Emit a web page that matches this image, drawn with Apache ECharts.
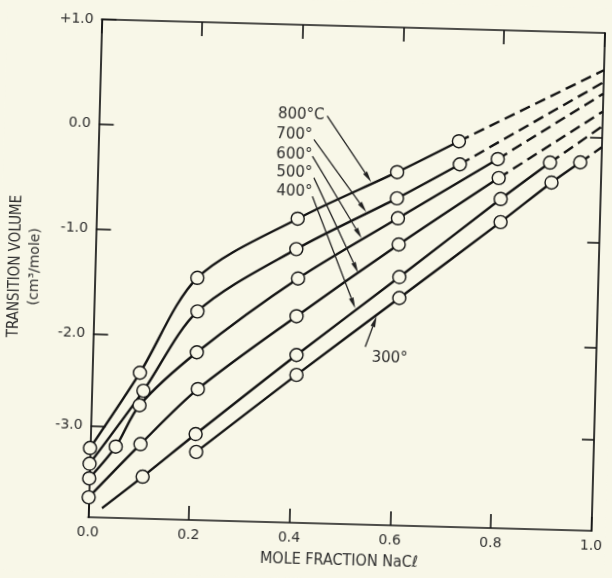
<!DOCTYPE html>
<html>
<head>
<meta charset="UTF-8">
<title>Transition volume vs mole fraction NaCl</title>
<script src="https://cdn.jsdelivr.net/npm/echarts@6.0.0/dist/echarts.min.js"></script>
<style>
  html, body { margin: 0; padding: 0; background: #f8f7e8; overflow: hidden; }
  /* the scanned figure sits slightly tilted on the page */
  #chart { width: 612px; height: 578px; transform: rotate(1.55deg); transform-origin: 50% 50%; }
</style>
</head>
<body>
<div id="chart"></div>
<script>
// curve temperatures, top to bottom
const temps = ['800', '700', '600', '500', '400', '300'];

// measured points: mole fraction NaCl -> transition volume (cm3/mole)
const x800 = [0.0, 0.095, 0.204, 0.400, 0.595, 0.716];
const y800 = [-3.09, -2.36, -1.44, -0.85, -0.38, -0.07];
const x700 = [0.0, 0.103, 0.206, 0.399, 0.596, 0.719];
const y700 = [-3.24, -2.53, -1.76, -1.14, -0.63, -0.29];
const x600 = [0.0, 0.051, 0.096, 0.207, 0.404, 0.599, 0.794];
const y600 = [-3.38, -3.07, -2.67, -2.15, -1.42, -0.82, -0.23];
const x500 = [0.0, 0.100, 0.211, 0.403, 0.602, 0.797];
const y500 = [-3.56, -3.04, -2.50, -1.78, -1.07, -0.41];
const x400 = [0.027, 0.106, 0.209, 0.405, 0.605, 0.802, 0.898];
const y400 = [-3.66, -3.35, -2.93, -2.15, -1.38, -0.61, -0.25];
const x300 = [0.211, 0.406, 0.606, 0.803, 0.902, 0.958];
const y300 = [-3.10, -2.34, -1.58, -0.83, -0.44, -0.24];
// the 400 curve begins without a circle
const unmarked400 = [0];
// dashed extrapolation, value at x = 1.0 for each curve
const yAtOne = [0.645, 0.53, 0.42, 0.25, 0.11, -0.09];

// axis ticks (the -3.0 mark sits a little high on the original scale)
const xTicks = [0, 0.2, 0.4, 0.6, 0.8, 1.0];
const yTicks = [1.0, 0.0, -1.0, -2.0, -2.88];
const yTickLabels = ['+1.0', '0.0', '-1.0', '-2.0', '-3.0'];

// annotation anchors in data units
const labelText = ['800°C', '700°', '600°', '500°', '400°'];
const labelAt = [[0.355, 0.14], [0.353, -0.052], [0.354, -0.243], [0.355, -0.416], [0.356, -0.595]];
const arrowFrom = [[0.453, 0.137], [0.428, -0.09], [0.426, -0.25], [0.430, -0.456], [0.428, -0.633]];
const arrowTo = [[0.544, -0.48], [0.536, -0.77], [0.528, -1.02], [0.523, -1.35], [0.519, -1.69]];
const label300 = '300°';
const label300At = [0.59, -2.16];
const arrow300From = [0.541, -2.055];
const arrow300To = [0.562, -1.76];

const xs = [x800, x700, x600, x500, x400, x300];
const ys = [y800, y700, y600, y500, y400, y300];

const bg = '#f8f7e8';
const ink = '#141414';
const textInk = '#2e2e2e';

const series = [];
temps.forEach(function (t, i) {
    const pts = xs[i].map(function (x, j) {
        const item = {value: [x, ys[i][j]]};
        if (t === '400' && unmarked400.indexOf(j) >= 0) item.symbol = 'none';
        return item;
    });
    series.push({
        name: t,
        type: 'line',
        data: pts,
        smooth: 0.3,
        symbol: 'circle',
        symbolSize: 13,
        itemStyle: {color: bg, borderColor: ink, borderWidth: 1.4},
        lineStyle: {color: ink, width: 2.4},
        z: 3
    });
    const last = xs[i].length - 1;
    series.push({
        name: t + ' extrapolated',
        type: 'line',
        data: [[xs[i][last], ys[i][last]], [1.0, yAtOne[i]]],
        symbol: 'none',
        lineStyle: {color: ink, width: 2.4, type: [11, 6]},
        z: 2
    });
});

function yLabel(v) {
    for (let k = 0; k < yTicks.length; k++) {
        if (Math.abs(yTicks[k] - v) < 1e-6) return yTickLabels[k];
    }
    return '';
}

const axisLine = {show: true, onZero: false, lineStyle: {color: ink, width: 1.7}};
const tickStyle = {color: ink, width: 1.6};

const chart = echarts.init(document.getElementById('chart'));
chart.setOption({
    animation: false,
    backgroundColor: bg,
    grid: {left: 94, right: 6, top: 25, bottom: 55},
    xAxis: [
        {
            type: 'value', min: 0, max: 1, interval: 0.2, position: 'bottom',
            axisLine: axisLine,
            axisTick: {inside: true, length: 14, lineStyle: tickStyle},
            axisLabel: {
                formatter: function (v) { return v.toFixed(1); },
                margin: 8, fontSize: 14, color: textInk, fontFamily: 'DejaVu Sans'
            },
            splitLine: {show: false},
            name: 'MOLE FRACTION NaCℓ',
            nameLocation: 'middle',
            nameGap: 29,
            nameTextStyle: {fontSize: 16, color: textInk, fontFamily: 'DejaVu Sans Condensed'}
        },
        {
            type: 'value', min: 0, max: 1, interval: 0.2, position: 'top',
            axisLine: axisLine,
            axisTick: {inside: true, length: 14, lineStyle: tickStyle},
            axisLabel: {show: false},
            splitLine: {show: false}
        }
    ],
    yAxis: [
        {
            type: 'value', min: -3.75, max: 1, position: 'left',
            axisLine: axisLine,
            axisTick: {inside: true, length: 15, lineStyle: tickStyle, customValues: yTicks},
            axisLabel: {
                customValues: yTicks, formatter: yLabel,
                margin: 8, fontSize: 14, color: textInk, fontFamily: 'DejaVu Sans'
            },
            splitLine: {show: false},
            name: '{a|TRANSITION VOLUME}\n{b|(cm³/mole)}',
            nameLocation: 'middle',
            nameRotate: 90,
            nameGap: 50,
            nameTextStyle: {
                color: textInk,
                rich: {
                    a: {fontSize: 15, lineHeight: 19, color: textInk, fontFamily: 'DejaVu Sans Condensed'},
                    b: {fontSize: 14, lineHeight: 19, color: textInk, fontFamily: 'DejaVu Sans'}
                }
            }
        },
        {
            type: 'value', min: -3.75, max: 1, position: 'right',
            axisLine: axisLine,
            axisTick: {inside: true, length: 12, lineStyle: tickStyle, customValues: yTicks.slice(1)},
            axisLabel: {show: false},
            splitLine: {show: false}
        }
    ],
    series: series
});

// temperature labels and arrows, placed from data units
function px(p) { return chart.convertToPixel({xAxisIndex: 0, yAxisIndex: 0}, p); }

function arrow(from, to) {
    const a = px(from), b = px(to);
    const dx = b[0] - a[0], dy = b[1] - a[1];
    const len = Math.sqrt(dx * dx + dy * dy);
    const ux = dx / len, uy = dy / len;
    const head = 11, half = 2.4;
    const bx = b[0] - ux * head, by = b[1] - uy * head;
    return [
        {type: 'line', shape: {x1: a[0], y1: a[1], x2: bx, y2: by},
         style: {stroke: '#222', lineWidth: 1.3}, z: 10},
        {type: 'polygon', shape: {points: [[b[0], b[1]], [bx - uy * half, by + ux * half], [bx + uy * half, by - ux * half]]},
         style: {fill: '#222'}, z: 10}
    ];
}

const graphics = [];
labelText.forEach(function (t, i) {
    const p = px(labelAt[i]);
    graphics.push({
        type: 'text', x: p[0], y: p[1], z: 10,
        style: {text: t, fill: textInk, fontSize: 15, fontFamily: 'DejaVu Sans', align: 'left', verticalAlign: 'middle'}
    });
    arrow(arrowFrom[i], arrowTo[i]).forEach(function (g) { graphics.push(g); });
});
const p300 = px(label300At);
graphics.push({
    type: 'text', x: p300[0], y: p300[1], z: 10,
    style: {text: label300, fill: textInk, fontSize: 15, fontFamily: 'DejaVu Sans', align: 'center', verticalAlign: 'middle'}
});
arrow(arrow300From, arrow300To).forEach(function (g) { graphics.push(g); });

chart.setOption({graphic: graphics});
</script>
</body>
</html>
